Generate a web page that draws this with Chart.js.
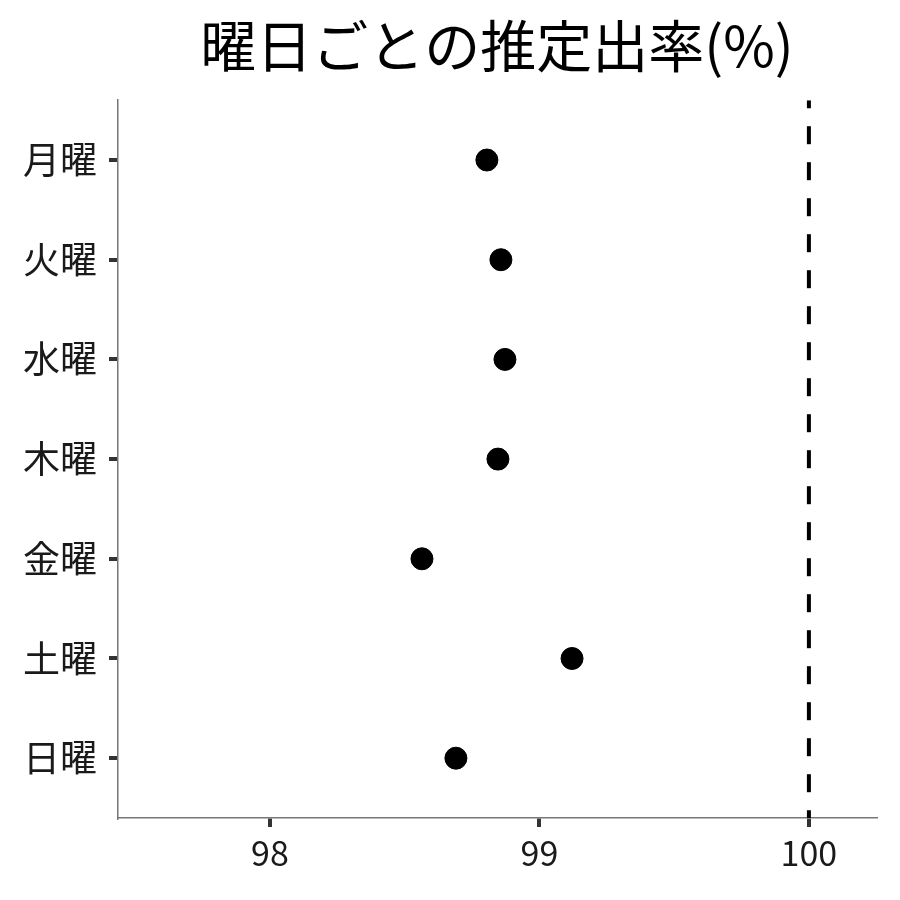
<!DOCTYPE html>
<html lang="ja">
<head>
  <meta charset="UTF-8">
  <title>曜日ごとの推定出率(%)</title>
  <script src="https://cdn.jsdelivr.net/npm/chart.js"></script>
  <style>
    body { margin: 0; background: #fff; }
    #wrap { width: 900px; height: 900px; }
  </style>
</head>
<body>
<div id="wrap"><canvas id="chart" width="900" height="900"></canvas></div>
<script>
  // 曜日と推定出率
  const days = ['月曜', '火曜', '水曜', '木曜', '金曜', '土曜', '日曜'];
  const rates = [98.805, 98.857, 98.872, 98.846, 98.564, 99.121, 98.690];
  const xTicks = [98, 99, 100];
  const refLine = 100;

  const font = '"Noto Sans CJK JP", "Noto Sans", sans-serif';

  const points = days.map((d, i) => ({ x: rates[i], y: i }));

  new Chart(document.getElementById('chart'), {
    type: 'scatter',
    data: {
      datasets: [
        {
          data: points,
          backgroundColor: '#000',
          borderColor: '#000',
          pointRadius: 11,
          pointHoverRadius: 11
        },
        {
          type: 'line',
          data: [{ x: refLine, y: -0.6 }, { x: refLine, y: days.length - 0.4 }],
          borderColor: '#000',
          borderWidth: 4,
          borderDash: [18, 18],
          borderDashOffset: 10,
          borderCapStyle: 'butt',
          pointRadius: 0,
          fill: false
        }
      ]
    },
    options: {
      responsive: false,
      animation: false,
      layout: { padding: { left: 0, right: 24, top: 0, bottom: 0 } },
      plugins: {
        legend: { display: false },
        tooltip: { enabled: false },
        title: {
          display: true,
          text: '曜日ごとの推定出率(%)',
          fullSize: false,
          color: '#000',
          font: { family: font, size: 56, weight: 'normal' },
          padding: { top: 12, bottom: 21 }
        }
      },
      scales: {
        x: {
          type: 'linear',
          min: 97.436,
          max: 100.249,
          afterBuildTicks: s => { s.ticks = xTicks.map(v => ({ value: v })); },
          afterFit: s => { s.height = 82; },
          ticks: {
            color: '#1a1a1a',
            font: { family: font, size: 34 },
            padding: 6
          },
          grid: { drawOnChartArea: false, drawTicks: true, tickLength: 9, color: '#333', lineWidth: 4, tickWidth: 4 },
          border: { display: true, color: '#777', width: 1.5 }
        },
        y: {
          type: 'linear',
          reverse: true,
          min: -0.6,
          max: days.length - 0.4,
          afterBuildTicks: s => { s.ticks = days.map((d, i) => ({ value: i })); },
          afterFit: s => { s.width = 118; },
          ticks: {
            color: '#1a1a1a',
            font: { family: font, size: 37 },
            padding: 12,
            callback: v => days[v]
          },
          grid: { drawOnChartArea: false, drawTicks: true, tickLength: 9, color: '#333', lineWidth: 4, tickWidth: 4 },
          border: { display: true, color: '#777', width: 1.5 }
        }
      }
    }
  });
</script>
</body>
</html>
